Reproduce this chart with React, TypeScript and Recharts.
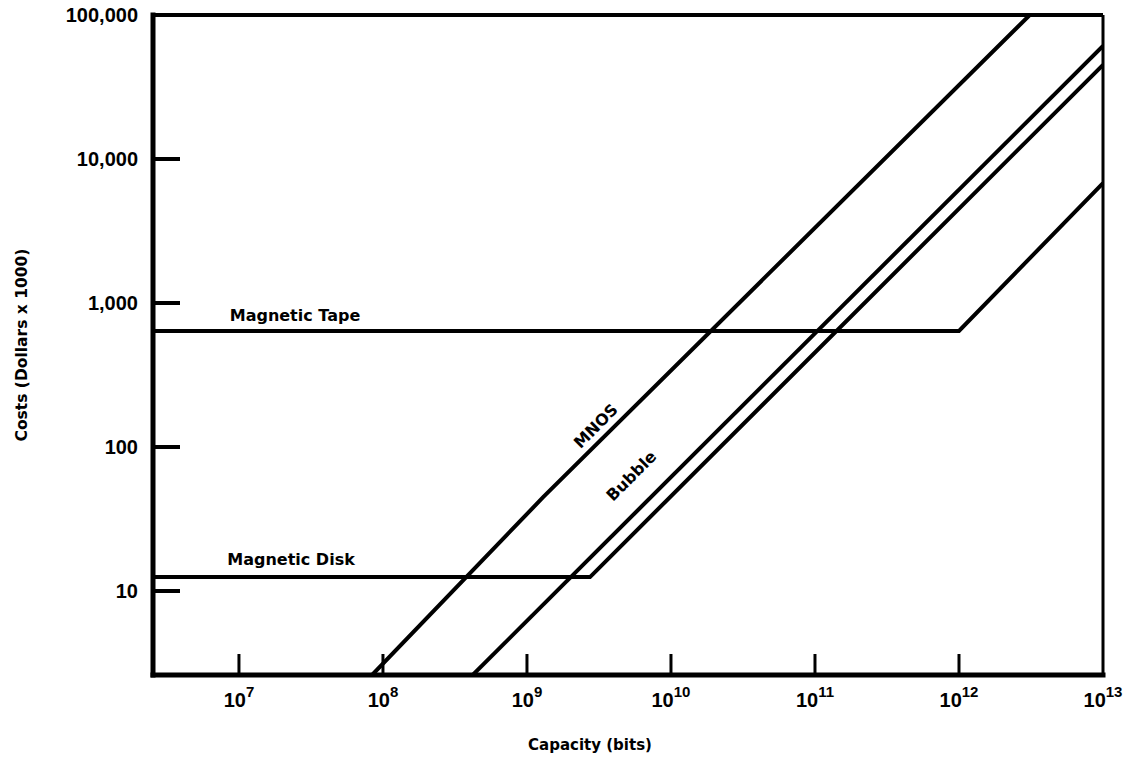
import React from 'react';
import { LineChart, Line, XAxis, YAxis, ReferenceLine, ReferenceDot } from 'recharts';

// Axis ranges (log scales)
const X_MIN = 2.53e6;
const X_MAX = 1e13;
const Y_MIN = 2.61;
const Y_MAX = 100000;

// Tick values and labels
const X_TICKS = [1e7, 1e8, 1e9, 1e10, 1e11, 1e12, 1e13];
const X_EXPONENTS = ['7', '8', '9', '10', '11', '12', '13'];
const Y_TICKS = [10, 100, 1000, 10000, 100000];
const Y_TICK_LABELS = ['10', '100', '1,000', '10,000', '100,000'];

// Series: capacity (bits) vs cost (dollars x 1000)
const tapeData = [
  { x: 2.53e6, y: 640 },
  { x: 1e12, y: 640 },
  { x: 1e13, y: 6800 },
];
const diskData = [
  { x: 2.53e6, y: 12.5 },
  { x: 2.74e9, y: 12.5 },
  { x: 1e13, y: 45000 },
];
const mnosData = [
  { x: 8.4e7, y: 2.61 },
  { x: 1.3e9, y: 45 },
  { x: 3.1e12, y: 100000 },
];
const bubbleData = [
  { x: 4.2e8, y: 2.61 },
  { x: 1e13, y: 61000 },
];

// Annotation anchors (data units)
const TAPE_LABEL = { x: 2.45e7, y: 640, text: 'Magnetic Tape' };
const DISK_LABEL = { x: 2.3e7, y: 12.5, text: 'Magnetic Disk' };
const MNOS_LABEL = { x: 3.0e9, y: 140, text: 'MNOS' };
const BUBBLE_LABEL = { x: 5.3e9, y: 63, text: 'Bubble' };

const TEXT_FONT = 'DejaVu Sans, Verdana, sans-serif';
const NUM_FONT = 'Liberation Sans, Arial, sans-serif';

const XTick = (props: any) => {
  const { x, y, payload } = props;
  const i = X_TICKS.indexOf(payload.value);
  const isLast = payload.value === X_MAX;
  return (
    <g>
      {!isLast && (
        <line x1={x} x2={x} y1={y} y2={y - 21} stroke="#000" strokeWidth={3} />
      )}
      <text
        x={x}
        y={y + 32}
        textAnchor="middle"
        fontFamily={NUM_FONT}
        fontWeight="bold"
        fontSize={20}
        fill="#000"
      >
        10
        <tspan dy={-10} fontSize={15}>
          {X_EXPONENTS[i]}
        </tspan>
      </text>
    </g>
  );
};

const YTick = (props: any) => {
  const { x, y, payload } = props;
  const i = Y_TICKS.indexOf(payload.value);
  const isTop = payload.value === Y_MAX;
  return (
    <g>
      {!isTop && (
        <line x1={x} x2={x + 27} y1={y} y2={y} stroke="#000" strokeWidth={4} />
      )}
      <text
        x={x - 15}
        y={y}
        dy="0.36em"
        textAnchor="end"
        fontFamily={NUM_FONT}
        fontWeight="bold"
        fontSize={20}
        fill="#000"
      >
        {Y_TICK_LABELS[i]}
      </text>
    </g>
  );
};

const labelStyle = {
  fill: '#000',
  fontFamily: TEXT_FONT,
  fontWeight: 'bold',
  fontSize: 16,
};

export default function App() {
  return (
    <div style={{ position: 'absolute', left: 0, top: 0, background: '#fff' }}>
      <LineChart
        width={1131}
        height={760}
        margin={{ top: 15, right: 28, bottom: 0, left: 0 }}
      >
        <XAxis
          dataKey="x"
          type="number"
          scale="log"
          domain={[X_MIN, X_MAX]}
          allowDataOverflow
          ticks={X_TICKS}
          interval={0}
          tick={<XTick />}
          tickLine={false}
          tickSize={0}
          tickMargin={0}
          height={85}
          axisLine={{ stroke: '#000', strokeWidth: 5, strokeLinecap: 'square' }}
          label={{
            content: (p: any) => {
              const vb = p.viewBox || { x: 153, y: 675, width: 950, height: 85 };
              return (
                <text
                  x={vb.x + vb.width * 0.46}
                  y={vb.y + 75}
                  textAnchor="middle"
                  fontFamily={TEXT_FONT}
                  fontWeight="bold"
                  fontSize={15}
                  fill="#000"
                >
                  Capacity (bits)
                </text>
              );
            },
          }}
        />
        <YAxis
          dataKey="y"
          type="number"
          scale="log"
          domain={[Y_MIN, Y_MAX]}
          allowDataOverflow
          ticks={Y_TICKS}
          interval={0}
          tick={<YTick />}
          tickLine={false}
          tickSize={0}
          tickMargin={0}
          width={153}
          axisLine={{ stroke: '#000', strokeWidth: 5, strokeLinecap: 'square' }}
          label={{
            content: (p: any) => {
              const vb = p.viewBox || { x: 0, y: 15, width: 153, height: 660 };
              const cx = vb.x + 22;
              const cy = vb.y + vb.height / 2;
              return (
                <text
                  x={cx}
                  y={cy}
                  transform={`rotate(-90 ${cx} ${cy})`}
                  textAnchor="middle"
                  dominantBaseline="central"
                  fontFamily={TEXT_FONT}
                  fontWeight="bold"
                  fontSize={15.5}
                  fill="#000"
                >
                  Costs (Dollars x 1000)
                </text>
              );
            },
          }}
        />
        <ReferenceLine y={Y_MAX} stroke="#000" strokeWidth={4} />
        <ReferenceLine x={X_MAX} stroke="#000" strokeWidth={3} />

        <Line data={tapeData} dataKey="y" stroke="#000" strokeWidth={4} dot={false} isAnimationActive={false} type="linear" />
        <Line data={diskData} dataKey="y" stroke="#000" strokeWidth={4} dot={false} isAnimationActive={false} type="linear" />
        <Line data={mnosData} dataKey="y" stroke="#000" strokeWidth={4} dot={false} isAnimationActive={false} type="linear" />
        <Line data={bubbleData} dataKey="y" stroke="#000" strokeWidth={4} dot={false} isAnimationActive={false} type="linear" />

        <ReferenceDot
          x={TAPE_LABEL.x}
          y={TAPE_LABEL.y}
          r={0}
          fill="none"
          stroke="none"
          label={{ value: TAPE_LABEL.text, position: 'top', offset: 10, ...labelStyle }}
        />
        <ReferenceDot
          x={DISK_LABEL.x}
          y={DISK_LABEL.y}
          r={0}
          fill="none"
          stroke="none"
          label={{ value: DISK_LABEL.text, position: 'top', offset: 12, ...labelStyle }}
        />
        <ReferenceDot
          x={MNOS_LABEL.x}
          y={MNOS_LABEL.y}
          r={0}
          fill="none"
          stroke="none"
          label={{ value: MNOS_LABEL.text, position: 'center', angle: -45, ...labelStyle }}
        />
        <ReferenceDot
          x={BUBBLE_LABEL.x}
          y={BUBBLE_LABEL.y}
          r={0}
          fill="none"
          stroke="none"
          label={{ value: BUBBLE_LABEL.text, position: 'center', angle: -45, ...labelStyle }}
        />
      </LineChart>
    </div>
  );
}
